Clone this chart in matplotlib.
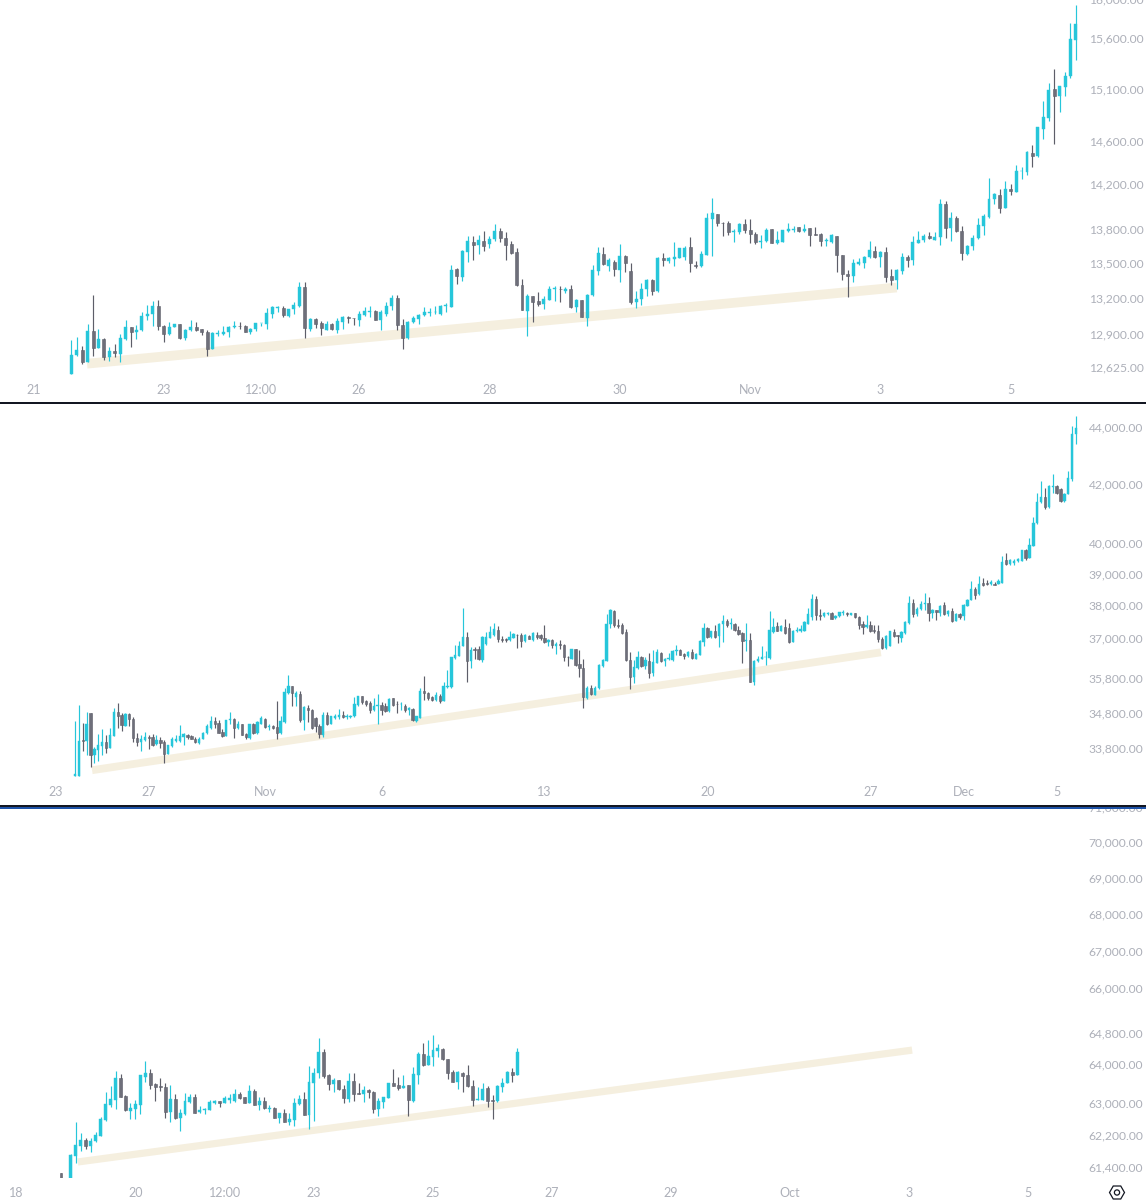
import matplotlib
matplotlib.use("Agg")
import matplotlib.pyplot as plt
import numpy as np
from matplotlib.patches import Rectangle, RegularPolygon, Circle
from matplotlib.ticker import NullLocator, NullFormatter

plt.rcParams['font.family'] = ['Lato', 'DejaVu Sans']

UP = '#26c6da'
DOWN = '#6e6f7a'
WICK_DOWN = '#5d5e69'
LABEL = '#adb0b9'
BAND = '#f5efdf'

# top chart, 2h bars
p1_open = [12576,12730,12772,12674,12926,12791,12861,12716,12763,12738,
12864,12965,12917,12934,13052,13074,13141,12973,12903,12959,
12987,12867,12934,12962,12948,12917,12783,12906,12903,12917,
12962,12973,12968,12917,12945,12993,12987,13074,13124,13124,
13057,13113,13136,13299,12945,13029,12996,12940,12987,12940,
13001,13046,13040,13024,13063,13091,13096,13024,13074,13136,
13209,12982,12867,13007,13029,13060,13082,13085,13074,13138,
13130,13454,13390,13606,13693,13664,13702,13673,13717,13784,
13728,13670,13600,13314,13094,13220,13180,13158,13191,13279,
13285,13270,13285,13127,13191,13040,13229,13439,13585,13477,
13518,13445,13571,13437,13169,13200,13279,13361,13264,13550,
13524,13542,13553,13559,13644,13489,13477,13580,13895,13942,
13863,13857,13775,13775,13848,13793,13760,13688,13696,13804,
13682,13693,13787,13799,13822,13790,13812,13763,13760,13703,
13692,13740,13577,13410,13392,13497,13509,13557,13609,13557,
13600,13392,13363,13442,13557,13534,13686,13706,13743,13709,
13732,14027,13812,13906,13792,13586,13654,13723,13830,13912,
14079,14115,13994,14163,14141,14328,14325,14500,14466,14722,
14831,15106,15041,15126,15230,15590]
p1_high = [12856,12878,12805,12987,13235,12948,12870,12794,12819,12906,
13024,12965,12982,13088,13150,13178,13192,12982,13004,12987,
12987,12948,13024,13004,12948,12940,12917,12940,12973,12973,
13010,13007,12982,12954,12996,12996,13122,13136,13136,13136,
13116,13172,13346,13343,13035,13035,13010,13015,12996,13038,
13052,13057,13038,13094,13127,13141,13102,13102,13175,13235,
13235,13029,13012,13057,13074,13127,13122,13136,13150,13164,
13489,13460,13620,13746,13746,13755,13784,13740,13848,13819,
13781,13702,13635,13366,13241,13226,13258,13220,13308,13308,
13308,13299,13314,13197,13191,13241,13486,13650,13644,13547,
13536,13673,13580,13507,13264,13337,13372,13372,13556,13594,
13562,13688,13638,13658,13737,13527,13609,13945,14085,13942,
13872,13877,13804,13857,13898,13898,13775,13752,13819,13810,
13790,13796,13863,13834,13825,13854,13812,13826,13772,13726,
13760,13746,13577,13447,13543,13549,13566,13703,13652,13612,
13643,13456,13456,13594,13577,13743,13791,13766,13777,13783,
14073,14058,13958,13921,13836,13666,13752,13900,13936,14266,
14131,14163,14241,14216,14387,14372,14519,14569,14747,14992,
15165,15307,15139,15276,15760,15946]
p1_low = [12576,12724,12660,12674,12724,12791,12693,12682,12716,12674,
12856,12800,12864,12926,13018,12968,12940,12839,12892,12959,
12864,12856,12931,12931,12892,12721,12783,12884,12892,12878,
12954,12948,12917,12906,12926,12968,12948,13038,13088,13046,
13046,13074,13130,12870,12931,12954,12892,12934,12940,12912,
12948,12996,12982,12973,13057,13046,13024,12934,13057,13102,
12934,12777,12861,12996,12990,13052,13057,13074,13066,13088,
13127,13328,13352,13518,13533,13585,13615,13638,13702,13693,
13536,13585,13308,13102,12889,13007,13136,13113,13191,13178,
13175,13250,13119,13085,13046,12968,13226,13404,13489,13439,
13396,13343,13425,13158,13122,13150,13220,13232,13261,13477,
13507,13477,13547,13530,13425,13460,13474,13577,13565,13834,
13746,13752,13693,13760,13769,13682,13673,13635,13693,13679,
13673,13688,13775,13775,13775,13781,13652,13749,13657,13657,
13686,13433,13363,13215,13346,13491,13462,13554,13552,13474,
13340,13316,13287,13415,13474,13486,13680,13692,13720,13706,
13666,13729,13700,13780,13529,13577,13623,13714,13749,13900,
14027,13951,13991,14112,14138,14256,14294,14366,14463,14631,
14803,14584,14881,15035,15211,15391]
p1_close = [12730,12772,12674,12926,12791,12861,12716,12763,12749,12870,
12965,12917,12940,13052,13074,13141,12968,12906,12962,12987,
12872,12940,12962,12940,12917,12783,12912,12912,12920,12962,
12973,12968,12920,12945,12996,12996,13080,13127,13130,13066,
13116,13144,13299,12951,13029,12990,12951,12987,12945,13015,
13046,13040,13035,13074,13099,13096,13024,13088,13141,13209,
12982,12872,13007,13038,13063,13085,13088,13091,13141,13144,
13445,13396,13615,13699,13664,13708,13653,13717,13784,13723,
13664,13594,13314,13108,13226,13169,13158,13197,13279,13288,
13280,13285,13127,13191,13049,13235,13445,13594,13495,13536,
13454,13571,13510,13169,13200,13285,13361,13270,13550,13533,
13550,13556,13638,13638,13507,13480,13585,13901,13945,13863,
13857,13775,13790,13848,13799,13766,13693,13702,13799,13682,
13711,13796,13804,13804,13784,13810,13752,13754,13700,13709,
13752,13577,13410,13392,13503,13514,13557,13617,13557,13606,
13389,13363,13447,13563,13531,13694,13709,13743,13726,13735,
14027,13815,13906,13786,13592,13657,13726,13842,13921,14079,
14118,13994,14163,14150,14331,14334,14503,14466,14741,14838,
15100,15041,15133,15237,15597,15757]
p1_ticks = [-7, 17, 35, 53, 77, 101, 125, 149, 173]
p1_tick_labels = ['21', '23', '12:00', '26', '28', '30', 'Nov', '3', '5']
p1_prices = [16000, 15600, 15100, 14600, 14200, 13800, 13500, 13200, 12900, 12625]
p1_band_x = [2.9, 152]
p1_band_y = [12660, 13296]

# middle chart, 4h bars
p2_open = [33050,33050,34050,34020,34810,33640,33770,33880,33980,33820,
34170,34840,34770,34450,34790,34650,34100,34000,34050,34140,
34120,33930,34050,34000,33660,33880,34030,34020,34140,34190,
34160,34090,33960,34080,34240,34400,34580,34530,34270,34170,
34610,34650,34400,34490,34220,34110,34510,34240,34510,34650,
34420,34440,34420,34240,34560,35380,35580,35270,35360,34610,
34960,34910,34680,34440,34200,34770,34510,34680,34700,34750,
34700,34700,34720,35030,35290,35170,35100,34890,35000,35030,
35000,34870,35240,35080,35060,35020,34900,34930,34580,34680,
35440,35390,35270,35190,35310,35170,35570,35570,36410,36490,
36790,37070,36320,36690,36690,36370,36840,37020,37120,37280,
37010,37000,36960,37040,37130,37110,36940,37090,36980,37120,
37110,37040,36890,36960,36790,36840,36820,36460,36400,36680,
36240,36120,35250,35530,35340,35530,36190,36320,37440,37850,
37430,37430,37220,36370,35860,36110,36460,36180,36340,35970,
36280,36570,36340,36380,36360,36640,36660,36540,36490,36610,
36400,36520,36920,37330,37060,37230,37090,37440,37560,37460,
37460,37270,37170,36940,36960,35720,36320,36390,36440,36420,
37220,37380,37250,37350,37330,36910,37250,37250,37250,37460,
37670,38220,37720,37690,37770,37800,37640,37690,37800,37800,
37740,37790,37670,37440,37350,37430,37270,37250,37010,36710,
36790,37220,37120,37040,37180,37480,38100,37750,37910,38060,
38100,37790,37880,37810,38030,37750,37850,37560,37750,37690,
38010,38190,38560,38380,38740,38740,38700,38720,38710,38740,
39480,39340,39370,39460,39460,39790,39550,39950,40680,41390,
41580,41230,41930,41950,41840,41440,41670,42200,43780]
p2_high = [34580,35030,34540,34840,34810,33860,34220,34350,34190,34400,
34960,35110,34810,34810,34810,34700,34250,34190,34280,34190,
34220,34190,34140,34050,33900,34120,34190,34470,34240,34210,
34200,34120,34120,34280,34510,34730,34700,34610,34370,34620,
34840,34670,34580,34510,34250,34510,34530,34590,34720,34670,
34510,34470,35170,34720,35550,35910,35600,35460,35460,35000,
35030,34930,34700,34510,34840,34840,34730,34790,34930,34860,
34790,34770,35270,35310,35300,35190,35170,35250,35360,35140,
35100,35250,35250,35170,35140,35060,34980,34950,34730,35550,
35890,35410,35310,35410,35360,35700,36060,36460,36810,36940,
37950,37200,36740,36740,36790,37090,37200,37380,37480,37380,
37090,37040,37250,37180,37140,37170,37140,37120,37200,37200,
37140,37410,36990,37010,36920,36970,36840,36490,36700,36700,
36660,36390,35600,35620,35600,36240,36390,37760,37930,37900,
37610,37480,37290,36590,36370,36620,36490,36440,36570,36660,
36690,36590,36410,36570,36660,36820,36690,36570,36640,36690,
36560,36960,37490,37370,37250,37410,37480,37740,37610,37640,
37480,37380,37220,37490,37170,36360,36490,36790,36620,37850,
37640,37530,37410,37610,37490,37270,37350,37430,37560,37960,
38400,38340,37910,37840,37840,37830,37720,37840,37900,37820,
37810,37810,37690,37560,37740,37540,37410,37430,37060,37110,
37250,37300,37120,37250,37540,38340,38240,37980,38170,38430,
38300,37910,37900,38040,38140,37900,37950,37790,37800,38060,
38240,38790,38610,38960,38900,38830,38830,38780,38870,39620,
39700,39520,39520,39550,39810,39850,40190,40890,41710,42120,
41890,42000,42380,42000,41880,41710,42460,44070,44430]
p2_low = [33050,33050,33730,33640,33300,33400,33470,33640,33700,33820,
34160,34400,34310,34440,34440,33980,33880,33750,34020,33800,
33890,33910,33820,33420,33650,33860,34000,34000,33910,34090,
34070,33960,33940,34070,34220,34370,34400,34240,34120,34160,
34510,34100,34350,34180,34090,34070,34220,34220,34490,34400,
34330,34370,34090,34220,34540,35360,35020,35020,34550,34330,
34560,34370,34280,34110,34140,34470,34490,34650,34650,34680,
34650,34680,34700,35010,35060,35020,34810,34870,34510,34770,
34830,34850,35010,34820,34890,34840,34770,34580,34560,34680,
35190,35190,35170,35170,35100,35170,35550,35530,36390,36490,
36770,35720,36120,36390,36370,36290,36820,37020,37090,36920,
36920,36910,36940,37020,36710,36740,36920,36990,36940,37010,
36960,36870,36790,36710,36540,36690,36320,36190,36380,36190,
35860,34960,35210,35330,35340,35510,36160,36320,37320,37370,
37320,37140,36320,35510,35690,36090,36140,36090,35840,35890,
36260,36290,36190,36350,36340,36510,36500,36390,36460,36390,
36390,36500,36790,37040,37020,37040,36740,36890,37350,37290,
37230,37110,36270,36620,35720,35630,36290,36380,36220,36390,
37190,37230,37230,37160,36870,36890,37210,37220,37230,37440,
37580,37580,37580,37670,37720,37600,37610,37670,37740,37690,
37720,37650,37300,37150,37330,37220,37170,36920,36690,36700,
36780,37060,36860,36920,37140,37460,37670,37690,37880,37880,
37560,37650,37580,37690,37730,37690,37510,37540,37610,37580,
38000,38190,38230,38370,38640,38660,38670,38660,38700,38740,
39300,39300,39320,39400,39450,39480,39550,39930,40670,41380,
41160,41210,41710,41670,41400,41420,41660,42120,43440]
p2_close = [33100,34020,34020,34510,33640,33790,33900,33980,33840,34190,
34840,34740,34470,34790,34640,34100,34000,34070,34140,34100,
33910,34050,33960,33660,33900,34070,34090,34160,34210,34120,
34090,33980,34090,34250,34440,34580,34510,34250,34160,34610,
34650,34400,34510,34200,34120,34490,34240,34560,34670,34420,
34450,34400,34250,34580,35410,35580,35380,35380,34610,34980,
34900,34400,34440,34210,34770,34490,34720,34730,34760,34700,
34720,34730,35060,35290,35140,35060,34890,35010,35030,34890,
34870,35220,35030,35060,35080,34900,34950,34610,34720,35440,
35390,35250,35190,35340,35170,35600,35600,36440,36520,36790,
37070,36320,36660,36660,36390,37060,37060,37200,37300,37010,
36970,36960,37060,37140,37110,36940,37110,37010,37170,37060,
37030,36890,36960,36800,36840,36800,36440,36440,36680,36220,
36120,35270,35550,35360,35550,36210,36360,37470,37880,37410,
37390,37190,36360,35870,36160,36460,36180,36360,35990,36300,
36590,36320,36390,36410,36640,36660,36520,36470,36610,36410,
36540,36940,37330,37070,37230,37070,37460,37540,37420,37490,
37270,37140,36940,36970,35720,36340,36400,36460,36460,37270,
37350,37250,37390,37190,36890,37250,37270,37300,37510,37770,
38220,37720,37690,37790,37810,37620,37700,37820,37820,37750,
37790,37670,37410,37350,37430,37250,37230,36990,36710,37090,
37230,37090,37090,37220,37510,38100,37770,37930,38080,38100,
37800,37900,37840,38020,37750,37850,37560,37750,37670,38030,
38210,38540,38370,38720,38680,38700,38780,38690,38790,39410,
39350,39470,39460,39500,39790,39550,39970,40690,41410,41580,
41240,41940,41950,41710,41440,41690,42240,43780,44010]
p2_ticks = [-5, 19, 49, 79, 121, 163, 205, 229, 253]
p2_tick_labels = ['23', '27', 'Nov', '6', '13', '20', '27', 'Dec', '5']
p2_prices = [44000, 42000, 40000, 39000, 38000, 37000, 35800, 34800, 33800]
p2_band_x = [4.4, 207.7]
p2_band_y = [33215, 36593]

# bottom chart, 2h bars, only runs part of the way
p3_open = [61270,61000,61150,61700,61950,62100,61950,62060,62210,62600,
62980,63110,63680,63210,62840,62870,62980,63700,63790,63520,
63470,63430,62800,63130,62650,62750,63050,63180,62810,62850,
62850,63020,63080,63040,63120,63080,63260,63180,63040,63340,
62980,63070,62880,62900,62660,62770,62560,62600,63000,63130,
62730,63540,63790,64330,63740,63510,63610,63390,63130,63580,
63280,63250,63360,63320,62880,63050,63160,63530,63480,63410,
63480,63070,63750,64280,64000,64220,64370,64430,64150,63820,
63560,63810,63740,63460,63110,63110,63410,63110,63070,63440,
63540,63820,63750]
p3_high = [61270,61040,61740,62560,62270,62140,62140,62310,62670,63310,
63460,63840,63760,63230,63020,63120,63740,64120,63890,63540,
63680,63540,63480,63250,62870,63280,63260,63260,62950,62900,
63120,63110,63080,63210,63260,63390,63320,63190,63500,63390,
63180,63180,62980,62920,62790,62890,62770,63150,63240,63320,
63980,63940,64710,64430,63760,63660,63620,63500,63790,63790,
63530,63460,63390,63330,63150,63190,63540,63910,63700,63740,
63500,63960,64340,64570,64650,64780,64540,64450,64170,63880,
63850,63820,64000,63630,63440,63530,63470,63240,63480,63680,
63850,63940,64440]
p3_low = [61150,60980,61150,61530,61830,61880,61790,62040,62200,62580,
62920,62890,63190,62830,62620,62620,62740,63570,63390,63090,
63340,62640,62540,62630,62330,62730,63020,62780,62780,62740,
62850,63000,62930,63020,63040,63060,63130,63020,63020,62980,
62850,62870,62810,62640,62530,62550,62470,62450,62980,62720,
62370,62580,63670,63670,63370,63300,63370,63040,63060,63080,
63250,63060,63170,62770,62700,62910,63150,63460,63370,63410,
62700,63060,63520,63980,64000,63980,64220,64140,63650,63560,
63390,63310,63440,62960,63110,63110,62920,62630,63050,63300,
63530,63560,63740]
p3_close = [61160,61020,61730,61970,62090,61950,62080,62230,62630,63000,
63130,63680,63190,62850,62900,63000,63740,63790,63500,63440,
63430,62810,63130,62640,62770,63080,63180,62790,62850,62890,
63060,63090,63040,63160,63150,63260,63150,63040,63340,62990,
63080,62900,62910,62660,62770,62560,62630,63020,63130,62730,
63560,63810,64340,63720,63520,63610,63390,63150,63580,63260,
63250,63360,63300,62890,63070,63180,63530,63470,63420,63470,
63100,63760,64280,64000,64240,64380,64440,64150,63810,63570,
63820,63720,63460,63110,63130,63400,63090,63080,63460,63540,
63820,63750,64340]
p3_ticks = [-9, 15, 33, 51, 75, 99, 123, 147, 171, 195]
p3_tick_labels = ['18', '20', '12:00', '23', '25', '27', '29', 'Oct', '3', '5']
p3_prices = [71000, 70000, 69000, 68000, 67000, 66000, 64800, 64000, 63000, 62200, 61400]
p3_band_x = [3.4, 171.6]
p3_band_y = [61550, 64390]


def add_panel(top, bottom):
    return fig.add_axes([0, 1 - bottom / 1200, 1085 / 1146, (bottom - top) / 1200])


def draw_panel(ax, o, h, l, c, width, xlim, ylim, ticks, tick_labels, prices,
               band_x, band_y, band_lw, pad):
    o, h, l, c = map(np.array, (o, h, l, c))
    x = np.arange(len(o))
    up = c >= o
    ax.plot(band_x, band_y, color=BAND, lw=band_lw, solid_capstyle='butt', zorder=1)
    ax.vlines(x[up], l[up], h[up], color=UP, lw=0.85, zorder=2)
    ax.vlines(x[~up], l[~up], h[~up], color=WICK_DOWN, lw=0.85, zorder=2)
    ax.bar(x[up], (c - o)[up], bottom=o[up], width=width, color=UP, edgecolor=UP, lw=0.3, zorder=3)
    ax.bar(x[~up], (c - o)[~up], bottom=o[~up], width=width, color=DOWN, edgecolor=WICK_DOWN, lw=0.4, zorder=3)
    ax.set_yscale('log')
    ax.set_xlim(*xlim)
    ax.set_ylim(*ylim)
    ax.set_xticks(ticks, tick_labels)
    ax.set_yticks(prices, ['{:,.2f}'.format(p) for p in prices])
    ax.yaxis.set_minor_locator(NullLocator())
    ax.yaxis.set_minor_formatter(NullFormatter())
    ax.yaxis.tick_right()
    ax.tick_params(axis='x', length=0, pad=pad, labelsize=9, labelcolor=LABEL)
    ax.tick_params(axis='y', length=0, pad=2.7, labelsize=8.7, labelcolor=LABEL)
    for lab in ax.get_yticklabels():
        lab.set_verticalalignment('center')
    for side in ax.spines.values():
        side.set_visible(False)
    ax.patch.set_alpha(0)


fig = plt.figure(figsize=(11.46, 12), dpi=100, facecolor='white')

# price ticks sit 1px higher than the marks here, so the candle area is the
# same and only the label baseline was nudged through the font size
ax1 = add_panel(-2, 378)
draw_panel(ax1, p1_open, p1_high, p1_low, p1_close, 0.55, (-13.13, 186.68), (12544, 16018),
           p1_ticks, p1_tick_labels, p1_prices, p1_band_x, p1_band_y, 7.0, 4.3)

ax2 = add_panel(404, 777)
draw_panel(ax2, p2_open, p2_high, p2_low, p2_close, 0.6, (-19.33, 260.31), (33030, 44876),
           p2_ticks, p2_tick_labels, p2_prices, p2_band_x, p2_band_y, 5.6, 6.5)

ax3 = add_panel(806, 1178)
draw_panel(ax3, p3_open, p3_high, p3_low, p3_close, 0.6, (-12.3, 206.45), (61153, 71052),
           p3_ticks, p3_tick_labels, p3_prices, p3_band_x, p3_band_y, 5.2, 6.5)

# separators and the little settings icon, pixel overlay
over = fig.add_axes([0, 0, 1, 1], zorder=10)
over.set_xlim(0, 1146)
over.set_ylim(1200, 0)
over.axis('off')
over.add_patch(Rectangle((1050, 796), 96, 12.5, color='white', lw=0))
over.add_patch(Rectangle((0, 402), 1146, 1.6, color='#131722', lw=0))
over.add_patch(Rectangle((0, 805.3), 1146, 1.7, color='#131722', lw=0))
over.add_patch(Rectangle((0, 807), 1146, 1.5, color='#1e53a8', lw=0))
over.add_patch(RegularPolygon((1117, 1192.5), 6, radius=7.5, orientation=np.pi / 6,
                              fill=False, edgecolor='#131722', lw=0.9))
over.add_patch(Circle((1117, 1192.5), 2.6, fill=False, edgecolor='#131722', lw=0.9))

fig.savefig('out.png', dpi=100)
